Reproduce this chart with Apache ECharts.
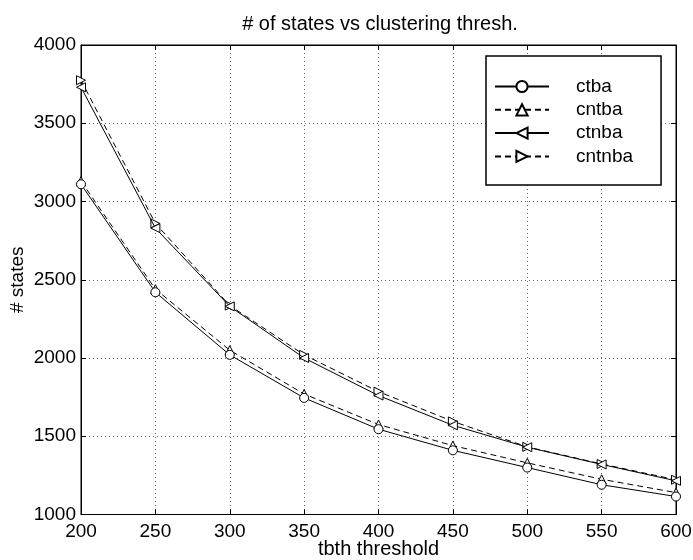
<!DOCTYPE html>
<html><head><meta charset="utf-8">
<script src="https://cdn.jsdelivr.net/npm/echarts@6/dist/echarts.min.js"></script>
<style>html,body{margin:0;padding:0;background:#fff}#c{width:693px;height:560px}</style>
</head><body><div id="c"></div>
<script>
const xValues = [200, 250, 300, 350, 400, 450, 500, 550, 600];
const ctba   = [3110, 2420, 2020, 1745, 1545, 1410, 1300, 1190, 1115];
const cntba  = [3130, 2440, 2050, 1770, 1575, 1440, 1330, 1225, 1140];
const ctnba  = [3730, 2830, 2330, 2000, 1760, 1570, 1430, 1320, 1215];
const cntnba = [3775, 2860, 2335, 2020, 1785, 1595, 1432, 1323, 1222];
const seriesNames = ['ctba', 'cntba', 'ctnba', 'cntnba'];
const titleText = '# of states vs clustering thresh.';
const xName = 'tbth threshold';
const yName = '# states';

const FONT = '"Liberation Sans", Arial, sans-serif';
const pair = (ys) => xValues.map((x, i) => [x, ys[i]]);
const hollow = { color: '#fff', borderColor: '#000', borderWidth: 1 };
function mk(name, data, symbol, rot, dashed) {
  return {
    name, type: 'line', data: pair(data), symbol, symbolSize: 9, symbolRotate: rot,
    showAllSymbol: true, itemStyle: hollow,
    lineStyle: { color: '#000', width: 1, type: dashed ? [6, 4] : 'solid' },
    emphasis: { disabled: true }, animation: false, z: dashed ? 3 : 4
  };
}
const chart = echarts.init(document.getElementById('c'), null, { renderer: 'canvas' });
const plain = (v) => String(v);
chart.setOption({
  backgroundColor: '#fff',
  animation: false,
  title: {
    text: titleText, left: 375, top: 9, textAlign: 'center',
    textStyle: { fontFamily: FONT, fontSize: 20, fontWeight: 'normal', color: '#000' }
  },
  grid: {
    left: 81, right: 17, top: 45, bottom: 45.5, show: true, borderColor: '#000', borderWidth: 1,
    containLabel: false, outerBoundsMode: 'none'
  },
  legend: {
    orient: 'vertical', left: 486, top: 56,
    padding: [21, 28, 19, 8], itemGap: 4.3, itemWidth: 54, itemHeight: 14,
    borderColor: '#000', borderWidth: 1.5, backgroundColor: '#fff',
    textStyle: { fontFamily: FONT, fontSize: 19, color: '#000', padding: [0, 0, 0, 22] },
    data: seriesNames
  },
  xAxis: [{
    type: 'value', min: 200, max: 600, interval: 50, position: 'bottom',
    name: xName, nameLocation: 'middle', nameGap: 25, nameMoveOverlap: false,
    nameTextStyle: { fontFamily: FONT, fontSize: 20, color: '#000' },
    axisLine: { lineStyle: { color: '#000', width: 1 } },
    axisTick: { inside: true, length: 5, lineStyle: { color: '#000' } },
    axisLabel: { fontFamily: FONT, fontSize: 19, color: '#000', margin: 8, formatter: plain },
    splitLine: { show: true, lineStyle: { color: '#666', type: [1, 3], width: 1 } }
  }, {
    type: 'value', min: 200, max: 600, interval: 50, position: 'top',
    axisLine: { show: true, lineStyle: { color: '#000' } },
    axisTick: { show: true, inside: true, length: 5, lineStyle: { color: '#000' } },
    axisLabel: { show: false }, splitLine: { show: false }
  }],
  yAxis: [{
    type: 'value', min: 1000, max: 4000, interval: 500, position: 'left',
    name: yName, nameLocation: 'middle', nameGap: 54, nameMoveOverlap: false,
    nameTextStyle: { fontFamily: FONT, fontSize: 19, color: '#000' },
    axisLine: { show: true, lineStyle: { color: '#000', width: 1 } },
    axisTick: { show: true, inside: true, length: 5, lineStyle: { color: '#000' } },
    axisLabel: { fontFamily: FONT, fontSize: 19, color: '#000', margin: 5, formatter: plain },
    splitLine: { show: true, lineStyle: { color: '#666', type: [1, 3], width: 1 } }
  }, {
    type: 'value', min: 1000, max: 4000, interval: 500, position: 'right',
    axisLine: { show: true, lineStyle: { color: '#000' } },
    axisTick: { show: true, inside: true, length: 5, lineStyle: { color: '#000' } },
    axisLabel: { show: false }, splitLine: { show: false }
  }],
  series: [
    mk('ctba', ctba, 'circle', 0, false),
    mk('cntba', cntba, 'triangle', 0, true),
    mk('ctnba', ctnba, 'triangle', 90, false),
    mk('cntnba', cntnba, 'triangle', -90, true)
  ]
});
</script></body></html>
